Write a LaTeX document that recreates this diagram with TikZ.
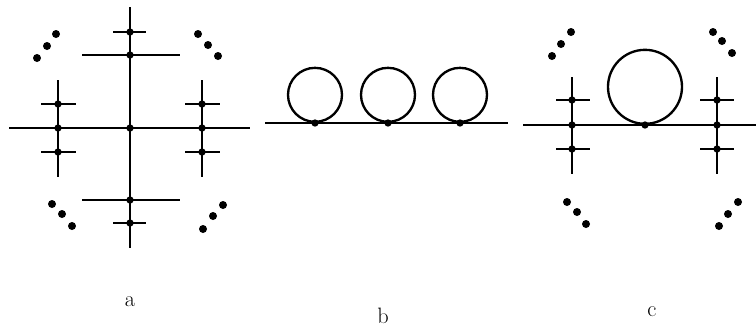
\documentclass[tikz,border=0pt]{standalone}
\usetikzlibrary{positioning}

\begin{document}
\begin{tikzpicture}[x=0.03cm, y=-0.03cm, line width=2pt,
			junction/.style={circle, fill, inner sep=0pt, minimum size=0.22cm},
			ell/.style={circle, fill, inner sep=0pt, minimum size=0.24cm},
			bubble/.style={circle, draw, inner sep=0pt, anchor=south},
			caption/.style={font=\fontsize{19}{22}\selectfont}]

		\useasboundingbox (0,0) rectangle (756,327);

		% panel a
		\node[junction] (a0) at (130,128) {};
		\node[junction] (aT1) at (130,55) {};
		\node[junction] (aT2) at (130,32) {};
		\node[junction] (aB1) at (130,200) {};
		\node[junction] (aB2) at (130,223) {};
		\node[junction] (aL0) at (58,128) {};
		\node[junction] (aL1) at (58,104) {};
		\node[junction] (aL2) at (58,152) {};
		\node[junction] (aR0) at (202,128) {};
		\node[junction] (aR1) at (202,104) {};
		\node[junction] (aR2) at (202,152) {};
		\coordinate (aW) at (9,128);
		\coordinate (aE) at (250,128);
		\coordinate (aN) at (130,7);
		\coordinate (aS) at (130,248);

		\draw (aW) -- (aL0.center) -- (a0.center) -- (aR0.center) -- (aE);
		\draw (aN) -- (aT2.center) -- (aT1.center) -- (a0.center) -- (aB1.center) -- (aB2.center) -- (aS);
		\draw (aT1.center) ++(-48,0) -- ++(98,0);
		\draw (aT2.center) ++(-17,0) -- ++(33,0);
		\draw (aB1.center) ++(-48,0) -- ++(98,0);
		\draw (aB2.center) ++(-17,0) -- ++(33,0);
		\draw (aL1.center) ++(0,-24) -- (aL1.center) -- (aL0.center) -- (aL2.center) -- ++(0,25);
		\draw (aL1.center) ++(-17,0) -- ++(35,0);
		\draw (aL2.center) ++(-17,0) -- ++(35,0);
		\draw (aR1.center) ++(0,-24) -- (aR1.center) -- (aR0.center) -- (aR2.center) -- ++(0,25);
		\draw (aR1.center) ++(-17,0) -- ++(35,0);
		\draw (aR2.center) ++(-17,0) -- ++(35,0);

		\node[ell] (aTL1) at (37,58) {};
		\node[ell] (aTL2) at (47,46) {};
		\node[ell] (aTL3) at (56,34) {};
		\node[ell] (aTR1) at (198,34) {};
		\node[ell] (aTR2) at (208,45) {};
		\node[ell] (aTR3) at (218,56) {};
		\node[ell] (aBL1) at (52,204) {};
		\node[ell] (aBL2) at (62,214) {};
		\node[ell] (aBL3) at (72,226) {};
		\node[ell] (aBR1) at (203,229) {};
		\node[ell] (aBR2) at (213,216) {};
		\node[ell] (aBR3) at (223,205) {};

		% panel b
		\node[junction] (b1) at (315,123) {};
		\node[junction] (b2) at (388,123) {};
		\node[junction] (b3) at (460,123) {};
		\coordinate (bW) at (265,123);
		\coordinate (bE) at (508,123);
		\draw (bW) -- (b1.center) -- (b2.center) -- (b3.center) -- (bE);
		\node[bubble, minimum size=1.62cm] (bc1) at (b1.center) {};
		\node[bubble, minimum size=1.62cm] (bc2) at (b2.center) {};
		\node[bubble, minimum size=1.62cm] (bc3) at (b3.center) {};

		% panel c
		\node[junction] (c0) at (645,125) {};
		\node[junction] (cL0) at (572,125) {};
		\node[junction] (cL1) at (572,100) {};
		\node[junction] (cL2) at (572,149) {};
		\node[junction] (cR0) at (717,125) {};
		\node[junction] (cR1) at (717,100) {};
		\node[junction] (cR2) at (717,149) {};
		\coordinate (cW) at (523,125);
		\coordinate (cE) at (756,125);

		\draw (cW) -- (cL0.center) -- (c0.center) -- (cR0.center) -- (cE);
		\node[bubble, minimum size=2.22cm] (cc) at (c0.center) {};
		\draw (cL1.center) ++(0,-23) -- (cL1.center) -- (cL0.center) -- (cL2.center) -- ++(0,25);
		\draw (cL1.center) ++(-16,0) -- ++(34,0);
		\draw (cL2.center) ++(-16,0) -- ++(34,0);
		\draw (cR1.center) ++(0,-23) -- (cR1.center) -- (cR0.center) -- (cR2.center) -- ++(0,25);
		\draw (cR1.center) ++(-17,0) -- ++(34,0);
		\draw (cR2.center) ++(-17,0) -- ++(34,0);

		\node[ell] (cTL1) at (552,56) {};
		\node[ell] (cTL2) at (561,44) {};
		\node[ell] (cTL3) at (571,32) {};
		\node[ell] (cTR1) at (713,32) {};
		\node[ell] (cTR2) at (722,41) {};
		\node[ell] (cTR3) at (732,53) {};
		\node[ell] (cBL1) at (567,202) {};
		\node[ell] (cBL2) at (577,212) {};
		\node[ell] (cBL3) at (586,224) {};
		\node[ell] (cBR1) at (719,226) {};
		\node[ell] (cBR2) at (728,214) {};
		\node[ell] (cBR3) at (738,202) {};

		% captions
		\node[caption] (capa) at (130,302) {a};
		\node[caption] (capb) at (383,316) {b};
		\node[caption] (capc) at (652,312) {c};
	\end{tikzpicture}
\end{document}
